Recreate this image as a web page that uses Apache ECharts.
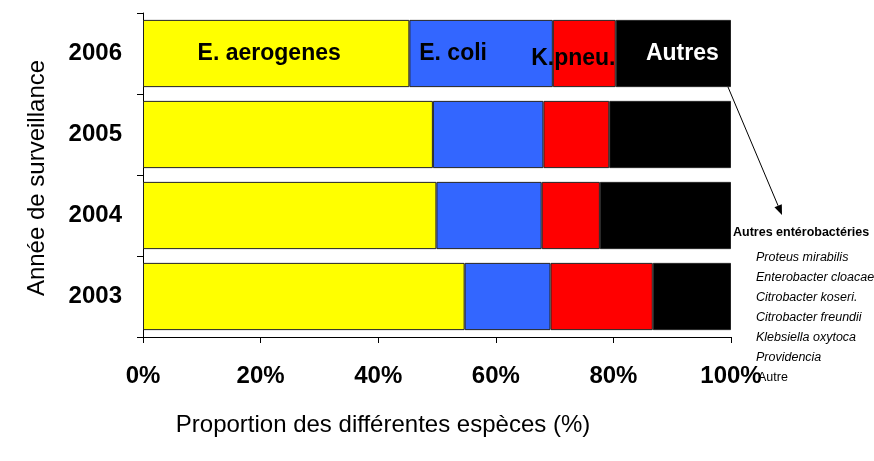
<html>
<head>
    <meta charset="utf-8" />
    <script src="https://cdn.jsdelivr.net/npm/echarts@6/dist/echarts.min.js"></script>
</head>
<body style="margin:0">
    <div id="main" style="width:874px;height:461px;"></div>
    <script>
        // data (% of isolates)
        var years = ['2003', '2004', '2005', '2006'];
        var speciesNames = ['E. aerogenes', 'E. coli', 'K.pneu.', 'Autres'];
        var aerogenes = [54.7, 49.9, 49.3, 45.3];
        var coli = [14.6, 17.9, 18.8, 24.4];
        var kpneu = [17.4, 9.9, 11.2, 10.7];
        var autres = [13.3, 22.3, 20.7, 19.6];
        var xTicks = [0, 20, 40, 60, 80, 100];
        var otherList = ['Proteus mirabilis', 'Enterobacter cloacae', 'Citrobacter koseri.',
                         'Citrobacter freundii', 'Klebsiella oxytoca', 'Providencia'];

        var font = '"Liberation Sans", Arial, sans-serif';
        var colors = ['#ffff00', '#3366ff', '#ff0000', '#000000'];
        var labelColors = ['#000', '#000', '#000', '#fff'];
        var labelOffsets = [[-7, 0], [-28, 0], [-11, 5], [9, 0]];

        var myChart = echarts.init(document.getElementById('main'));

        var values = [aerogenes, coli, kpneu, autres];
        var series = [];
        for (var s = 0; s < values.length; s++) {
            var data = values[s].map(function (v, i) {
                if (i != years.length - 1) return v;
                return {
                    value: v,
                    label: {
                        show: true,
                        position: 'inside',
                        formatter: '{a}',
                        color: labelColors[s],
                        fontFamily: font,
                        fontWeight: 'bold',
                        fontSize: 23,
                        offset: labelOffsets[s]
                    }
                };
            });
            series.push({
                name: speciesNames[s],
                type: 'bar',
                stack: 'total',
                barCategoryGap: '17%',
                itemStyle: { color: colors[s], borderColor: '#222', borderWidth: 1 },
                data: data
            });
        }

        // arrow pointing from the 2006 "Autres" bar to the note
        var ax1 = 728, ay1 = 87, ax2 = 782, ay2 = 215;
        var len = Math.sqrt((ax2 - ax1) * (ax2 - ax1) + (ay2 - ay1) * (ay2 - ay1));
        var ux = (ax2 - ax1) / len, uy = (ay2 - ay1) / len;
        var bx = ax2 - ux * 10, by = ay2 - uy * 10;

        var graphics = [
            { type: 'line', shape: { x1: ax1, y1: ay1, x2: bx, y2: by }, style: { stroke: '#000', lineWidth: 1 } },
            { type: 'polygon', shape: { points: [[ax2, ay2], [bx + uy * 4, by - ux * 4], [bx - uy * 4, by + ux * 4]] }, style: { fill: '#000' } },
            { type: 'text', x: 733, y: 233, style: { text: 'Autres entérobactéries', fontFamily: font, fontWeight: 'bold', fontSize: 12.5, fill: '#000', textVerticalAlign: 'middle' } },
            { type: 'text', x: 758, y: 378, style: { text: 'Autre', fontFamily: font, fontSize: 12.5, fill: '#000', textVerticalAlign: 'middle' } },
            { type: 'text', x: 383, y: 425, style: { text: 'Proportion des différentes espèces (%)', fontFamily: font, fontSize: 24, fill: '#000', textAlign: 'center', textVerticalAlign: 'middle' } },
            { type: 'text', x: 37, y: 178, rotation: Math.PI / 2, style: { text: 'Année de surveillance', fontFamily: font, fontSize: 24, fill: '#000', textAlign: 'center', textVerticalAlign: 'middle' } }
        ];
        otherList.forEach(function (name, i) {
            graphics.push({ type: 'text', x: 756, y: 258 + i * 20, style: { text: name, fontFamily: font, fontStyle: 'italic', fontSize: 12.5, fill: '#000', textVerticalAlign: 'middle' } });
        });

        option = {
            animation: false,
            backgroundColor: '#fff',
            grid: { left: 143, right: 143, top: 13, bottom: 124 },
            xAxis: {
                type: 'value',
                min: xTicks[0],
                max: xTicks[xTicks.length - 1],
                interval: xTicks[1] - xTicks[0],
                splitLine: { show: false },
                axisLine: { show: true, lineStyle: { color: '#000', width: 1 } },
                axisTick: { show: true, length: 6, lineStyle: { color: '#000' } },
                axisLabel: { formatter: '{value}%', color: '#000', fontFamily: font, fontWeight: 'bold', fontSize: 24, margin: 27 }
            },
            yAxis: {
                type: 'category',
                data: years,
                axisLine: { show: true, lineStyle: { color: '#000', width: 1 } },
                axisTick: { show: true, length: 6, lineStyle: { color: '#000' } },
                axisLabel: { color: '#000', fontFamily: font, fontWeight: 'bold', fontSize: 24, margin: 21 }
            },
            series: series,
            graphic: graphics
        };
        myChart.setOption(option);
    </script>
</body>
</html>
